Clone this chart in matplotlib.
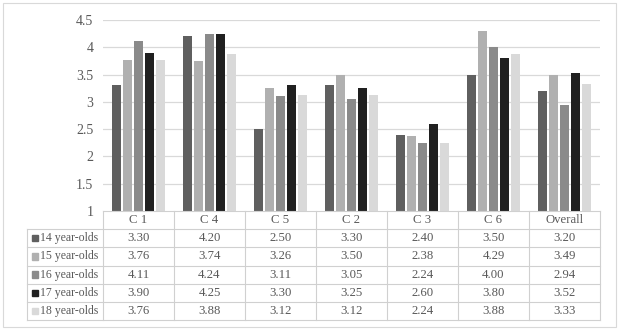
import numpy as np
import matplotlib.pyplot as plt
from matplotlib.patches import Rectangle

categories = ['C 1', 'C 4', 'C 5', 'C 2', 'C 3', 'C 6', 'Overall']
series = ['14 year-olds', '15 year-olds', '16 year-olds', '17 year-olds', '18 year-olds']
age14 = [3.30, 4.20, 2.50, 3.30, 2.40, 3.50, 3.20]
age15 = [3.76, 3.74, 3.26, 3.50, 2.38, 4.29, 3.49]
age16 = [4.11, 4.24, 3.11, 3.05, 2.24, 4.00, 2.94]
age17 = [3.90, 4.25, 3.30, 3.25, 2.60, 3.80, 3.52]
age18 = [3.76, 3.88, 3.12, 3.12, 2.24, 3.88, 3.33]
yticks = [1, 1.5, 2, 2.5, 3, 3.5, 4, 4.5]

values = [age14, age15, age16, age17, age18]
colors = ['#5f5f5f', '#b0b0b0', '#8a8a8a', '#202020', '#d9d9d9']
txt = '#595959'
plt.rcParams['font.family'] = ['Liberation Serif', 'DejaVu Serif']

W, H = 620, 332
fig = plt.figure(figsize=(6.2, 3.32), dpi=100)

def fx(px):
    return px / W

def fy(py):
    return 1 - py / H

# outer frame
fig.patches.append(Rectangle((fx(3), fy(327)), fx(613), (324) / H, transform=fig.transFigure,
                             fill=False, edgecolor='#d9d9d9', linewidth=0.8))

ax = fig.add_axes([fx(103), fy(211), fx(600) - fx(103), (211 - 20) / H])
x = np.arange(len(categories))
bw = 0.12
step = 0.155
for i, (vals, c) in enumerate(zip(values, colors)):
    ax.bar(x + (i - 2) * step, np.array(vals) - 1, bottom=1, width=bw, color=c, zorder=3)
ax.set_xlim(-0.5, len(categories) - 0.5)
ax.set_ylim(1, 4.5)
ax.set_yticks(yticks)
ax.set_yticklabels([f'{t:g}' for t in yticks], color=txt, fontsize=10)
ax.tick_params(axis='y', length=0, pad=7)
ax.set_xticks([])
for s in ax.spines.values():
    s.set_visible(False)
for t in yticks[1:]:
    ax.axhline(t, color='#d9d9d9', linewidth=0.9, zorder=0)

# data table
tax = fig.add_axes([fx(103), fy(320), fx(600) - fx(103), (320 - 211) / H])
nrow = len(series) + 1
tax.set_xlim(-0.5, len(categories) - 0.5)
tax.set_ylim(nrow, 0)
tax.axis('off')
lc = '#d0d0d0'
lw = 0.8
left = -0.5 - 76 / 71
# horizontal lines
tax.plot([-0.5, len(categories) - 0.5], [0, 0], color=lc, lw=lw, clip_on=False)
for r in range(1, nrow + 1):
    tax.plot([left, len(categories) - 0.5], [r, r], color=lc, lw=lw, clip_on=False)
# vertical lines
for c in range(len(categories) + 1):
    tax.plot([c - 0.5, c - 0.5], [0, nrow], color=lc, lw=lw, clip_on=False)
tax.plot([left, left], [1, nrow], color=lc, lw=lw, clip_on=False)

fs = 9.2
for j, cat in enumerate(categories):
    tax.text(j, 0.5, cat, ha='center', va='center', color=txt, fontsize=fs)
for i, (name, vals, c) in enumerate(zip(series, values, colors)):
    r = i + 1.5
    tax.add_patch(Rectangle((left + 0.075, r - 0.17), 0.075, 0.34, color=c, clip_on=False))
    tax.text(left + 0.19, r, name, ha='left', va='center', color=txt, fontsize=8.5)
    for j, v in enumerate(vals):
        tax.text(j, r, f'{v:.2f}', ha='center', va='center', color=txt, fontsize=fs)

fig.savefig('out.png', dpi=100)
